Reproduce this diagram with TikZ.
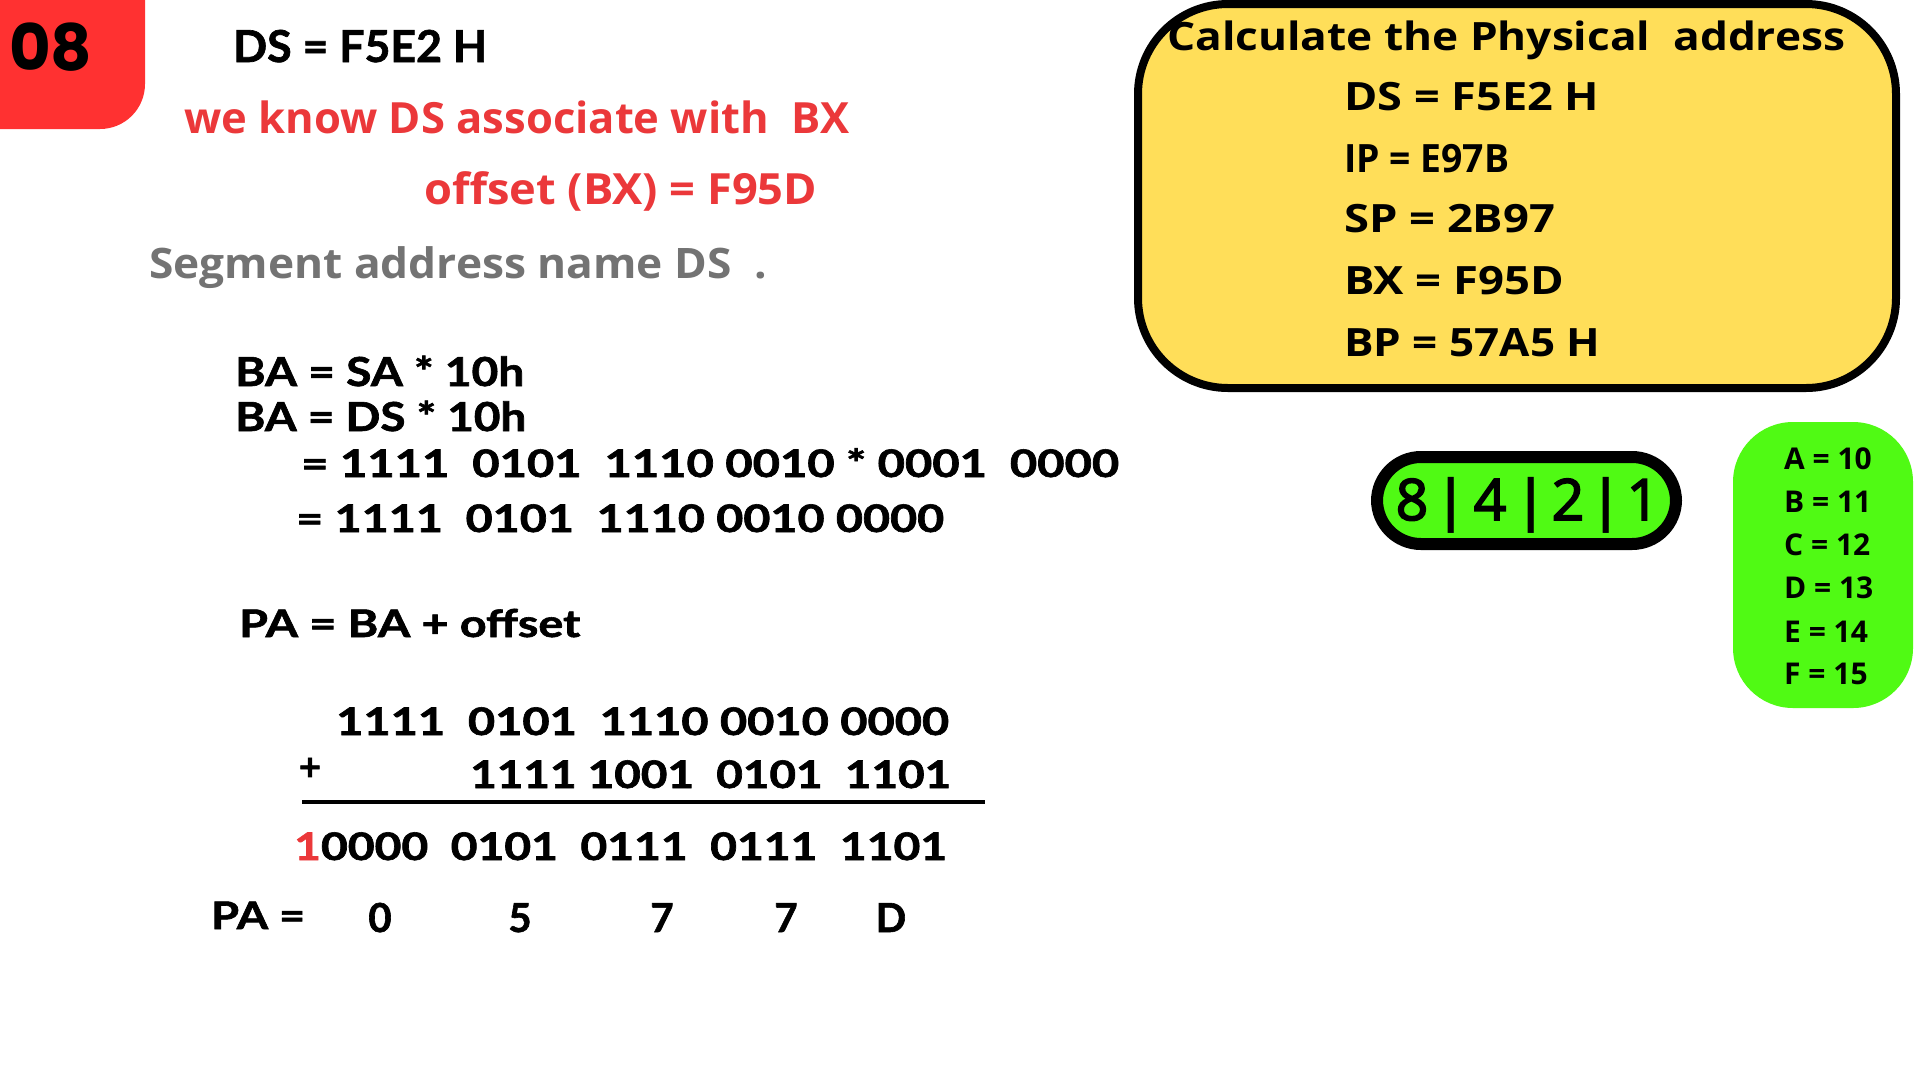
\documentclass[tikz,border=0pt]{standalone}
\usepackage{graphicx}
\usepackage{fontspec}
\setmainfont{Open Sans}
\newfontfamily\latofont{Lato}[BoldFeatures={FakeBold=1.5}]
\newfontfamily\popfont{Poppins}
\newfontfamily\osmed{Open Sans}[UprightFeatures={FakeBold=3}]
\newcommand\fitto[2]{\resizebox{#1pt}{\height}{#2}}
\definecolor{boxred}{RGB}{255,49,49}
\definecolor{txtred}{RGB}{235,56,58}
\definecolor{txtgray}{RGB}{115,115,115}
\definecolor{boxyellow}{RGB}{255,222,89}
\definecolor{boxgreen}{RGB}{80,250,20}
\begin{document}
\begin{tikzpicture}[x=1pt,y=-1pt,
  txt/.style={inner sep=0pt,anchor=base west,font=\bfseries},
  mathtxt/.style={inner sep=0pt,anchor=base west,font=\latofont\bfseries\fontsize{38}{40}\selectfont},
  yltxt/.style={inner sep=0pt,anchor=base west,font=\bfseries\fontsize{39}{41}\selectfont},
  tbltxt/.style={inner sep=0pt,anchor=base west,font=\bfseries\fontsize{30}{32}\selectfont},
  pilltxt/.style={inner sep=0pt,anchor=base,font=\osmed\mdseries\fontsize{57}{60}\selectfont},
  pillbar/.style={inner sep=0pt,anchor=base,font=\bfseries\fontsize{57}{60}\selectfont},
  padigit/.style={inner sep=0pt,anchor=base,font=\latofont\bfseries\fontsize{40}{42}\selectfont}]
\useasboundingbox[fill=white] (0,0) rectangle (1920,1080);
% red tag
\fill[boxred,rounded corners=45pt] (-100,-100) rectangle (145,129);
\node[txt,font=\popfont\bfseries\fontsize{64}{66}\selectfont] (num) at (9,70) {08};
% left column
\node[txt,font=\latofont\bfseries\fontsize{44}{46}\selectfont] (ds) at (233,62) {\fitto{254}{DS = F5E2 H}};
\node[txt,text=txtred,font=\bfseries\fontsize{43}{46}\selectfont] (know) at (184,133) {\fitto{665}{we know DS associate with\ \ BX}};
\node[txt,text=txtred,font=\bfseries\fontsize{43}{46}\selectfont] (off) at (424,204) {\fitto{393}{offset (BX) = F95D}};
\node[txt,text=txtgray,font=\bfseries\fontsize{42}{44}\selectfont] (seg) at (149,278) {\fitto{618}{Segment address name DS\ \ .}};
\node[mathtxt,font=\latofont\bfseries\fontsize{40}{42}\selectfont] (basa) at (235,386) {\fitto{289}{BA = SA * 10h}};
\node[mathtxt,font=\latofont\bfseries\fontsize{40}{42}\selectfont] (bads) at (235,431) {\fitto{291}{BA = DS * 10h}};
\node[mathtxt] (bin1) at (301,477) {\fitto{818}{= 1111\ \ 0101\ \ 1110 0010 * 0001\ \ 0000}};
\node[mathtxt] (bin2) at (296,532) {\fitto{648}{= 1111\ \ 0101\ \ 1110 0010 0000}};
\node[mathtxt] (pa) at (239,637) {\fitto{341}{PA = BA + offset}};
\node[mathtxt] (add1) at (336,735) {\fitto{613}{1111\ \ 0101\ \ 1110 0010 0000}};
\node[inner sep=0pt,font=\latofont\bfseries\fontsize{38}{40}\selectfont] (plus) at (310,769) {+};
\node[mathtxt] (add2) at (470,788) {\fitto{481}{1111 1001\ \ 0101\ \ 1101}};
\coordinate (rl) at (302,802);
\coordinate (rr) at (985,802);
\draw[line width=3.5pt] (rl) -- (rr);
\node[mathtxt] (res) at (294,860) {\fitto{653}{\textcolor{txtred}{1}0000\ \ 0101\ \ 0111\ \ 0111\ \ 1101}};
\node[mathtxt] (paeq) at (211,929) {\fitto{94}{PA =}};
\node[padigit] (d1) at (380,932) {0};
\node[padigit] (d2) at (520,932) {5};
\node[padigit] (d3) at (662,932) {7};
\node[padigit] (d4) at (786,932) {7};
\node[padigit] (d5) at (891,932) {D};
% yellow box
\draw[line width=8pt,fill=boxyellow,rounded corners=90pt] (1138,4) rectangle (1896,388);
\node[yltxt] (calc) at (1167,50) {\fitto{678}{Calculate the Physical\ \ address}};
\node[yltxt] (yds) at (1344,110) {\fitto{255}{DS = F5E2 H}};
\node[yltxt] (yip) at (1344,172) {\fitto{165}{IP = E97B}};
\node[yltxt] (ysp) at (1344,232) {\fitto{211}{SP = 2B97}};
\node[yltxt] (ybx) at (1344,294) {\fitto{220}{BX = F95D}};
\node[yltxt] (ybp) at (1344,356) {\fitto{256}{BP = 57A5 H}};
% 8421 pill
\draw[line width=12pt,fill=boxgreen,rounded corners=44pt] (1377,457) rectangle (1676,544);
\node[pilltxt] (p8) at (1412,520) {8};
\node[pillbar] (b1) at (1451,520) {|};
\node[pilltxt] (p4) at (1490,520) {4};
\node[pillbar] (b2) at (1531,520) {|};
\node[pilltxt] (p2) at (1568,520) {2};
\node[pillbar] (b3) at (1606,520) {|};
\node[pilltxt] (p1) at (1643,520) {1};
% hex table
\fill[boxgreen,rounded corners=60pt] (1733,422) rectangle (1913,708);
\node[tbltxt] (ta) at (1784,469) {A = 10};
\node[tbltxt] (tb) at (1784,512) {B = 11};
\node[tbltxt] (tc) at (1784,555) {C = 12};
\node[tbltxt] (td) at (1784,598) {D = 13};
\node[tbltxt] (te) at (1784,642) {E = 14};
\node[tbltxt] (tf) at (1784,684) {F = 15};
\end{tikzpicture}
\end{document}
